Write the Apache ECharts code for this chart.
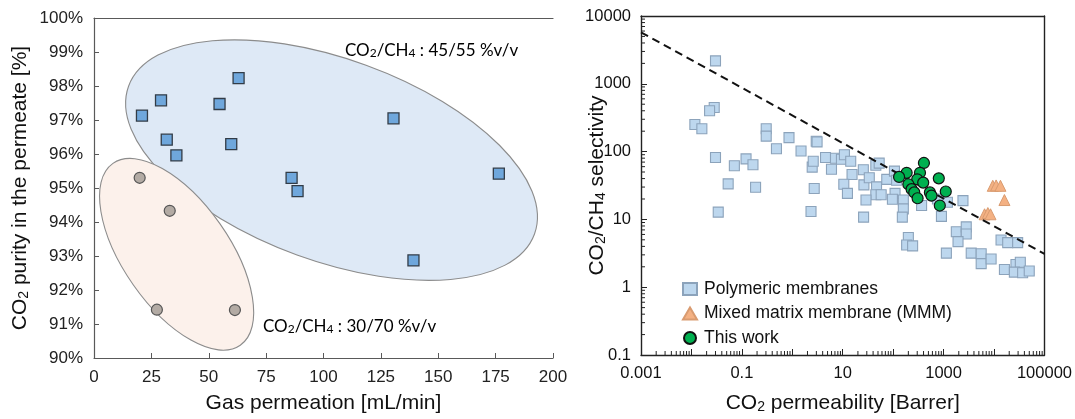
<!DOCTYPE html>
<html><head><meta charset="utf-8">
<script src="https://cdn.jsdelivr.net/npm/echarts@6/dist/echarts.min.js"></script>
<style>html,body{margin:0;padding:0;background:#fff}#c{width:1075px;height:419px}</style>
</head><body><div id="c"></div>
<script>
// ---------- Left chart data ----------
// [gas permeation mL/min, CO2 purity %]
const feed4555 = [[20.9,97.13],[29.2,97.58],[63.0,98.23],[54.7,97.47],[31.7,96.42],[59.8,96.29],[35.9,95.96],[130.5,97.05],[86.1,95.30],[88.7,94.91],[176.4,95.42],[139.2,92.87]];
const feed3070 = [[19.9,95.30],[33.0,94.33],[27.4,91.42],[61.4,91.41]];
// group ellipse centres [x, y] in data units
const ellipseCenters = [[103.5,95.82],[36.0,93.05]];

// ---------- Right chart data ----------
// [CO2 permeability Barrer, CO2/CH4 selectivity]
const polymeric = [[0.030,2180],[0.0283,447],[0.0229,400],[0.0117,251],[0.0161,217],[0.304,217],[0.304,169],[0.485,110],[0.030,82],[0.071,62],[0.121,78],[0.166,64],[0.0535,33.4],[0.187,29.8],[0.034,12.8],[0.86,161],[1.49,102],[2.98,142],[3.1,139],[2.48,59],[2.6,72],[2.72,28.6],[4.56,82],[7.18,79.6],[9.42,77],[10.8,90],[14.4,72],[5.98,55],[15.3,46],[10.5,33],[12.4,24.2],[25.6,54],[26.3,32.3],[33.6,41.2],[46.8,30.2],[45.3,23.1],[57.8,23.1],[28.9,19.3],[2.35,13.1],[25.9,10.8],[45.3,63],[52.8,67.5],[74.6,39],[106,51.6],[109,24.2],[96.6,19.8],[117,37.7],[159,19.3],[159,14.3],[152,10.8],[366,16],[755,20],[1190,17.9],[906,11.1],[2420,18.9],[200,5.42],[185,4.2],[243,4.07],[1135,3.18],[1787,6.56],[2812,7.76],[2812,6.08],[1932,4.7],[3530,3.18],[5560,3.11],[5560,2.23],[8750,2.6],[13770,4.97],[18660,4.54],[29400,4.54],[16070,1.82],[27200,2.16],[33200,2.33],[25300,1.67],[36900,1.63],[49900,1.73]];
const mmm = [[9440,31.3],[11000,31.7],[13400,31.3],[16070,19.3],[6490,11.9],[7540,12.4],[8510,11.9]];
const thisWork = [[407,68],[185,48.7],[131,42.3],[340,48.7],[300,39],[200,33],[232,27.9],[394,34.9],[262,25],[305,20.5],[535,25],[803,40.3],[1104,25.8],[841,16],[575,22.4]];
const upperBound = [[0.001,5740],[100000,3.1]];
const xLogLabels = ['0.001','0.1','10','1000','100000'];
const yLogLabels = ['0.1','1','10','100','1000','10000'];
const minorMultipliers = [2,3,4,5,6,7,8,9];

const AX = "'Liberation Sans', Arial, sans-serif";
const ANN = "Lato, 'Open Sans', sans-serif";

const ellipseStyles = [
  {rx:216, ry:101, rot:-20, fill:'#dee9f6'},
  {rx:111, ry:53, rot:-55, fill:'#fcf1eb'}
];

function expOf(v){ return Math.round(Math.log10(v)); }
function fmtPow(e){ return e < 0 ? Math.pow(10,e).toFixed(-e) : String(Math.pow(10,e)); }

const xMinor = [], yMinor = [];
for (let e = -3; e < 5; e++) minorMultipliers.forEach(m => xMinor.push([m*Math.pow(10,e), 0.1]));
for (let e = -1; e < 4; e++) minorMultipliers.forEach(m => yMinor.push([0.001, m*Math.pow(10,e)]));

const sub = {fontSize:14, verticalAlign:'bottom', lineHeight:4, fontFamily:AX, color:'#111'};
const nm = {fontSize:21, verticalAlign:'bottom', lineHeight:24, fontFamily:AX, color:'#111'};
const annA = {fontSize:17, fontFamily:ANN, color:'#111', verticalAlign:'bottom', lineHeight:22};
const annB = {fontSize:12, fontFamily:ANN, color:'#111', verticalAlign:'bottom', lineHeight:2};

const chart = echarts.init(document.getElementById('c'), null, {renderer:'canvas'});
chart.setOption({
  animation:false,
  backgroundColor:'#fff',
  grid:[
    {left:94, top:18, width:459, height:341},
    {left:641, top:16, width:406, height:344}
  ],
  xAxis:[
    {type:'value', gridIndex:0, min:0, max:200, interval:25,
     axisLine:{lineStyle:{color:'#595959', width:1.2}},
     axisTick:{inside:true, length:5, lineStyle:{color:'#595959'}},
     axisLabel:{fontSize:17, color:'#222', fontFamily:AX, margin:11},
     splitLine:{show:false},
     name:'Gas permeation [mL/min]', nameLocation:'middle', nameGap:35, nameMoveOverlap:false,
     nameTextStyle:{fontSize:21, color:'#111', fontFamily:AX}},
    {type:'value', gridIndex:0, position:'top', min:0, max:200,
     axisLine:{show:true, lineStyle:{color:'#595959', width:1.2}},
     axisTick:{show:false}, axisLabel:{show:false}, splitLine:{show:false}},
    {type:'log', gridIndex:1, logBase:10, min:0.001, max:100000, splitNumber:8,
     axisLine:{lineStyle:{color:'#222', width:1.4}},
     axisTick:{inside:true, length:6, lineStyle:{color:'#222'}},
     axisLabel:{fontSize:16.5, color:'#111', fontFamily:AX, margin:10,
       formatter:v => { const s = fmtPow(expOf(v)); return xLogLabels.indexOf(s) >= 0 ? s : ''; }},
     splitLine:{show:false},
     name:'{n|CO}{s|2}{n| permeability [Barrer]}', nameLocation:'middle', nameGap:35, nameMoveOverlap:false,
     nameTextStyle:{rich:{n:nm, s:sub}}},
    {type:'log', gridIndex:1, position:'top', logBase:10, min:0.001, max:100000,
     axisLine:{show:true, lineStyle:{color:'#222', width:1.4}},
     axisTick:{show:false}, axisLabel:{show:false}, splitLine:{show:false}}
  ],
  yAxis:[
    {type:'value', gridIndex:0, min:90, max:100, interval:1,
     axisLine:{show:true, lineStyle:{color:'#595959', width:1.2}},
     axisTick:{show:true, inside:true, length:5, lineStyle:{color:'#595959'}},
     axisLabel:{fontSize:17, color:'#222', fontFamily:AX, margin:11, formatter:'{value}%'},
     splitLine:{show:false},
     name:'{n|CO}{s|2}{n| purity in the permeate [%]}', nameLocation:'middle', nameGap:63, nameRotate:90, nameMoveOverlap:false,
     nameTextStyle:{rich:{n:nm, s:sub}}},
    {type:'log', gridIndex:1, logBase:10, min:0.1, max:10000, splitNumber:5,
     axisLine:{show:true, lineStyle:{color:'#222', width:1.4}},
     axisTick:{show:true, inside:true, length:6, lineStyle:{color:'#222'}},
     axisLabel:{fontSize:16.5, color:'#111', fontFamily:AX, margin:10,
       formatter:v => { const s = fmtPow(expOf(v)); return yLogLabels.indexOf(s) >= 0 ? s : ''; }},
     splitLine:{show:false},
     name:'{n|CO}{s|2}{n|/CH}{s|4}{n| selectivity}', nameLocation:'middle', nameGap:33, nameRotate:90, nameMoveOverlap:false,
     nameTextStyle:{rich:{n:nm, s:sub}}},
    {type:'log', gridIndex:1, position:'right', logBase:10, min:0.1, max:10000,
     axisLine:{show:true, lineStyle:{color:'#222', width:1.4}},
     axisTick:{show:false}, axisLabel:{show:false}, splitLine:{show:false}}
  ],
  legend:{
    data:['Polymeric membranes','Mixed matrix membrane (MMM)','This work'],
    orient:'vertical', left:677, top:275, itemWidth:14, itemHeight:12, itemGap:6.5,
    textStyle:{fontSize:17.5, color:'#111', fontFamily:AX, padding:[0,0,0,2]}
  },
  graphic:[
    {type:'text', left:345, top:42, z:10, style:{text:'{a|CO}{b|2}{a|/CH}{b|4}{a| : 45/55 %v/v}', rich:{a:annA, b:annB}}},
    {type:'text', left:263, top:318, z:10, style:{text:'{a|CO}{b|2}{a|/CH}{b|4}{a| : 30/70 %v/v}', rich:{a:annA, b:annB}}}
  ],
  series:[
    {type:'custom', name:'groups', xAxisIndex:0, yAxisIndex:0, z:1, silent:true, clip:false,
     data:ellipseCenters,
     renderItem:(params, api) => {
       const p = api.coord([api.value(0), api.value(1)]);
       const e = ellipseStyles[params.dataIndex];
       return {type:'ellipse', x:p[0], y:p[1], rotation:e.rot*Math.PI/180,
         shape:{cx:0, cy:0, rx:e.rx, ry:e.ry},
         style:{fill:e.fill, stroke:'#8c8c8c', lineWidth:1.1}};
     }},
    {type:'scatter', name:'45/55', xAxisIndex:0, yAxisIndex:0, z:5, data:feed4555,
     symbol:'rect', symbolSize:11,
     itemStyle:{color:'#6fa7dc', borderColor:'#323c47', borderWidth:1.3, opacity:1}},
    {type:'scatter', name:'30/70', xAxisIndex:0, yAxisIndex:0, z:5, data:feed3070,
     symbol:'circle', symbolSize:11,
     itemStyle:{color:'#b3aba4', borderColor:'#555', borderWidth:1.2, opacity:1}},
    {type:'custom', name:'minorX', xAxisIndex:2, yAxisIndex:1, silent:true, clip:false, z:3,
     data:xMinor,
     renderItem:(params, api) => {
       const p = api.coord([api.value(0), api.value(1)]);
       return {type:'line', shape:{x1:p[0], y1:p[1], x2:p[0], y2:p[1]-4}, style:{stroke:'#222', lineWidth:1}};
     }},
    {type:'custom', name:'minorY', xAxisIndex:2, yAxisIndex:1, silent:true, clip:false, z:3,
     data:yMinor,
     renderItem:(params, api) => {
       const p = api.coord([api.value(0), api.value(1)]);
       return {type:'line', shape:{x1:p[0], y1:p[1], x2:p[0]+4, y2:p[1]}, style:{stroke:'#222', lineWidth:1}};
     }},
    {type:'scatter', name:'Polymeric membranes', xAxisIndex:2, yAxisIndex:1, z:4, data:polymeric,
     symbol:'rect', symbolSize:10,
     itemStyle:{color:'#bdd7ee', borderColor:'#8ca3bb', borderWidth:1.1, opacity:1}},
    {type:'scatter', name:'Mixed matrix membrane (MMM)', xAxisIndex:2, yAxisIndex:1, z:5, data:mmm,
     symbol:'triangle', symbolSize:11,
     itemStyle:{color:'#f4b183', borderColor:'#d99b70', borderWidth:1, opacity:1}},
    {type:'line', name:'upper bound', xAxisIndex:2, yAxisIndex:1, z:6, data:upperBound,
     showSymbol:false, symbol:'none', silent:true,
     lineStyle:{color:'#111', width:2, type:[8,5]}},
    {type:'scatter', name:'This work', xAxisIndex:2, yAxisIndex:1, z:7, data:thisWork,
     symbol:'circle', symbolSize:11,
     itemStyle:{color:'#00b050', borderColor:'#111', borderWidth:1.2, opacity:1}}
  ]
});
</script></body></html>
